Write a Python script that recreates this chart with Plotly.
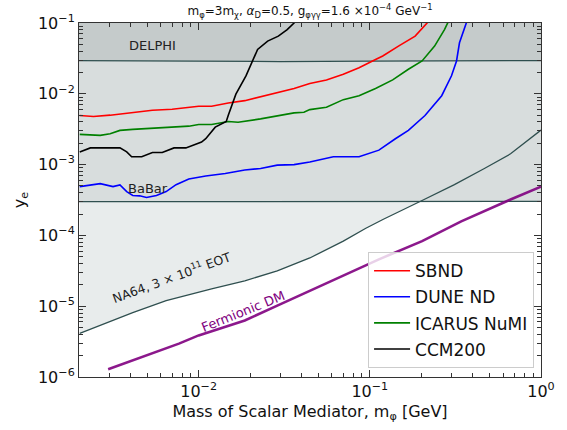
import plotly.graph_objects as go

# ---------------- data ----------------
XMIN, XMAX = 0.002, 1.0
YMIN, YMAX = 1e-6, 1e-1

sbnd_x = [0.00202, 0.00243, 0.00304, 0.00380, 0.00452, 0.00537, 0.00700, 0.0100, 0.0119, 0.0149, 0.0186,
          0.0288, 0.0361, 0.0446, 0.0558, 0.0700, 0.0865, 0.108, 0.119, 0.147, 0.184, 0.216, 0.25]
sbnd_y = [4.93e-3, 4.78e-3, 4.99e-3, 5.31e-3, 5.67e-3, 5.86e-3, 6.05e-3, 6.68e-3, 6.68e-3, 7.41e-3, 8.00e-3,
          1.05e-2, 1.19e-2, 1.40e-2, 1.57e-2, 1.89e-2, 2.34e-2, 3.06e-2, 3.42e-2, 4.72e-2, 6.52e-2, 1.0e-1, 1.6e-1]

dune_x = [0.00202, 0.00233, 0.00266, 0.00316, 0.00347, 0.00380, 0.00412, 0.00452, 0.00496, 0.00567, 0.00646,
          0.00738, 0.00876, 0.0110, 0.0143, 0.0186, 0.0230, 0.0288, 0.0361, 0.0446, 0.0612, 0.0865, 0.113,
          0.141, 0.168, 0.210, 0.263, 0.300, 0.321, 0.334, 0.352, 0.366, 0.38]
dune_y = [4.89e-4, 5.16e-4, 5.38e-4, 4.89e-4, 5.16e-4, 4.16e-4, 3.66e-4, 3.62e-4, 3.43e-4, 3.66e-4, 4.16e-4,
          5.21e-4, 6.26e-4, 6.90e-4, 7.50e-4, 8.37e-4, 8.82e-4, 9.84e-4, 1.00e-3, 1.09e-3, 1.29e-3, 1.29e-3, 1.60e-3,
          2.32e-3, 3.04e-3, 4.93e-3, 9.40e-3, 1.80e-2, 2.91e-2, 5.25e-2, 7.65e-2, 1.0e-1, 1.3e-1]

icarus_x = [0.00202, 0.00233, 0.00266, 0.00304, 0.00347, 0.00412, 0.00537, 0.00700, 0.00876, 0.0100, 0.0119,
            0.0149, 0.0170, 0.0230, 0.0288, 0.0361, 0.0412, 0.0446, 0.0558, 0.0700, 0.0865, 0.108, 0.136,
            0.168, 0.202, 0.239, 0.273, 0.285, 0.30]
icarus_y = [2.67e-3, 2.64e-3, 2.59e-3, 2.73e-3, 3.04e-3, 3.14e-3, 3.27e-3, 3.35e-3, 3.49e-3, 3.69e-3, 3.69e-3,
            4.06e-3, 3.97e-3, 4.42e-3, 4.93e-3, 5.37e-3, 5.49e-3, 5.98e-3, 6.45e-3, 8.27e-3, 9.40e-3, 1.19e-2, 1.57e-2,
            2.22e-2, 2.91e-2, 4.72e-2, 8.05e-2, 1.0e-1, 1.3e-1]

ccm_x = [0.00202, 0.00233, 0.00266, 0.00347, 0.00380, 0.00406, 0.00465, 0.00537, 0.00613, 0.00718, 0.00842,
         0.0104, 0.0110, 0.0125, 0.0145, 0.0149, 0.0165, 0.0189, 0.0221, 0.0253, 0.0292, 0.0329, 0.0361, 0.04]
ccm_y = [1.51e-3, 1.72e-3, 1.72e-3, 1.72e-3, 1.51e-3, 1.29e-3, 1.29e-3, 1.48e-3, 1.48e-3, 1.72e-3, 1.72e-3,
         2.08e-3, 2.32e-3, 3.38e-3, 4.06e-3, 4.98e-3, 9.90e-3, 1.79e-2, 4.23e-2, 5.55e-2, 6.52e-2, 8.05e-2, 1.0e-1, 1.3e-1]

na64_x = [0.00202, 0.00266, 0.00412, 0.00646, 0.0100, 0.0119, 0.0186, 0.0288, 0.0446, 0.0700, 0.0948,
          0.120, 0.202, 0.312, 0.464, 0.664, 1.0]
na64_y = [4.13e-6, 5.35e-6, 8.13e-6, 1.20e-5, 1.60e-5, 1.76e-5, 2.28e-5, 3.15e-5, 4.80e-5, 8.30e-5, 1.26e-4,
          1.69e-4, 3.11e-4, 5.21e-4, 8.73e-4, 1.42e-3, 3.07e-3]

babar_x = [0.002, 0.01, 0.03, 0.1, 0.3, 1.0]
babar_y = [3.0e-4, 3.0e-4, 3.05e-4, 3.0e-4, 3.0e-4, 3.02e-4]

delphi_x = [0.002, 0.01, 0.03, 0.1, 0.3, 1.0]
delphi_y = [2.95e-2, 2.9e-2, 2.85e-2, 2.9e-2, 2.95e-2, 2.95e-2]

ferm_x = [0.00296, 0.00767, 0.0100, 0.0186, 0.0288, 0.0446, 0.0700, 0.113, 0.202, 0.342, 0.664, 1.0]
ferm_y = [1.29e-6, 2.96e-6, 3.87e-6, 6.28e-6, 1.02e-5, 1.65e-5, 2.68e-5, 4.59e-5, 8.30e-5, 1.58e-4, 3.21e-4, 4.89e-4]

x_tickvals = [0.01, 0.1, 1.0]
x_ticktext = ["10<sup>−2</sup>", "10<sup>−1</sup>", "10<sup>0</sup>"]
y_tickvals = [1e-6, 1e-5, 1e-4, 1e-3, 1e-2, 1e-1]
y_ticktext = ["10<sup>−6</sup>", "10<sup>−5</sup>", "10<sup>−4</sup>", "10<sup>−3</sup>", "10<sup>−2</sup>", "10<sup>−1</sup>"]

# ---------------- figure ----------------
FONT = "DejaVu Sans"
BOUND = "#2F4F4F"
TOP = 10.0  # above visible range

fig = go.Figure()

def region(xs, ys, fillcolor):
    fig.add_trace(go.Scatter(x=list(xs) + [xs[-1], xs[0]], y=list(ys) + [TOP, TOP],
                             mode="lines", fill="toself", fillcolor=fillcolor,
                             line=dict(width=0), hoverinfo="skip", showlegend=False))

region(na64_x, na64_y, "#E8ECEC")
region(babar_x, babar_y, "#D8DDDD")
region(delphi_x, delphi_y, "#C5CBCB")

for xs, ys in [(na64_x, na64_y), (babar_x, babar_y), (delphi_x, delphi_y)]:
    fig.add_trace(go.Scatter(x=xs, y=ys, mode="lines", line=dict(color=BOUND, width=1.3),
                             showlegend=False, hoverinfo="skip"))

fig.add_trace(go.Scatter(x=ferm_x, y=ferm_y, mode="lines", line=dict(color="#800080", width=2.6),
                         opacity=0.9, showlegend=False))

for name, xs, ys, col in [("SBND", sbnd_x, sbnd_y, "#FF0000"),
                          ("DUNE ND", dune_x, dune_y, "#0000FF"),
                          ("ICARUS NuMI", icarus_x, icarus_y, "#008000"),
                          ("CCM200", ccm_x, ccm_y, "#000000")]:
    fig.add_trace(go.Scatter(x=xs, y=ys, mode="lines", name=name, legendgroup=name,
                             line=dict(color=col, width=1.6)))

ann_font = dict(family=FONT, size=13, color="#222")
fig.add_annotation(x=-2.27, y=-1.322, xref="x", yref="y", text="DELPHI", showarrow=False, font=ann_font)
fig.add_annotation(x=-2.293, y=-3.339, xref="x", yref="y", text="BaBar", showarrow=False, font=ann_font)
fig.add_annotation(x=-2.16, y=-4.585, xref="x", yref="y", text="NA64, 3 × 10<sup>11</sup> EOT",
                   showarrow=False, font=dict(family=FONT, size=12.5, color="#222"), textangle=-20)
fig.add_annotation(x=-1.741, y=-5.076, xref="x", yref="y", text="Fermionic DM", showarrow=False,
                   font=dict(family=FONT, size=13, color="#800080"), textangle=-22)

axis_common = dict(type="log", ticks="inside", ticklen=7, tickwidth=1, tickcolor="#333",
                   showline=True, linecolor="#333", linewidth=1, mirror="ticks", showgrid=False,
                   zeroline=False, tickfont=dict(family=FONT, size=16, color="#111"))

minor_x = [m * 10 ** e for e in range(-3, 0) for m in range(2, 10)]
minor_y = [m * 10 ** e for e in range(-6, -1) for m in range(2, 10)]

fig.update_xaxes(**axis_common, range=[-2.69897, 0], tickmode="array", tickvals=x_tickvals, ticktext=x_ticktext,
                 ticklabeloverflow="allow",
                 minor=dict(ticks="inside", ticklen=4, tickcolor="#333", tickmode="array", tickvals=minor_x),
                 title=dict(text="Mass of Scalar Mediator, m<sub>φ</sub> [GeV]",
                            font=dict(family=FONT, size=16, color="#111"), standoff=5))
fig.update_yaxes(**axis_common, range=[-6, -1], tickmode="array", tickvals=y_tickvals, ticktext=y_ticktext,
                 minor=dict(ticks="inside", ticklen=4, tickcolor="#333", tickmode="array", tickvals=minor_y),
                 title=dict(text="y<sub>e</sub>", font=dict(family=FONT, size=16, color="#111"), standoff=8))

fig.update_layout(
    width=567, height=430,
    margin=dict(l=79, r=19, t=20, b=53),
    plot_bgcolor="white", paper_bgcolor="white",
    title=dict(text="m<sub>φ</sub>=3m<sub>χ</sub>, <i>α</i><sub>D</sub>=0.5, g<sub>φγγ</sub>=1.6 ×10<sup>−4</sup> GeV<sup>−1</sup>",
               x=0.5, xref="paper", y=1 - 11 / 430, yanchor="middle",
               font=dict(family=FONT, size=12, color="#111")),
    legend=dict(x=0.985, y=0.025, xanchor="right", yanchor="bottom",
                bgcolor="rgba(255,255,255,0.8)", bordercolor="#CCCCCC", borderwidth=1,
                tracegroupgap=1, itemwidth=36,
                font=dict(family=FONT, size=17, color="#111")),
)

fig.write_html("out.html", config={"displayModeBar": False},
               post_script="document.body.style.margin='0px';document.body.style.overflow='hidden';")
